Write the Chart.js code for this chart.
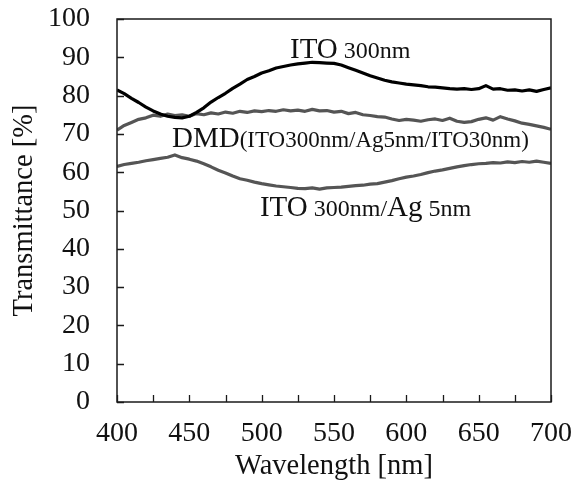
<!DOCTYPE html>
<html>
<head>
<meta charset="utf-8">
<script src="https://cdn.jsdelivr.net/npm/chart.js@4.4.1/dist/chart.umd.min.js"></script>
<style>
html,body{margin:0;padding:0;background:#fff;}
#wrap{width:583px;height:490px;position:relative;}
</style>
</head>
<body>
<div id="wrap"><canvas id="c"></canvas></div>
<script>
// Wavelength (nm), 5 nm steps
const wavelengths = [400,405,410,415,420,425,430,435,440,445,450,455,460,465,470,475,480,485,490,495,500,505,510,515,520,525,530,535,540,545,550,555,560,565,570,575,580,585,590,595,600,605,610,615,620,625,630,635,640,645,650,655,660,665,670,675,680,685,690,695,700];

const ito300 = [81.5,80.5,79.3,78.2,77.0,76.0,75.2,74.6,74.3,74.2,74.6,75.6,76.8,78.3,79.5,80.6,81.9,83.0,84.2,85.0,85.9,86.5,87.2,87.6,88.0,88.3,88.5,88.7,88.6,88.5,88.4,88.0,87.3,86.6,85.9,85.2,84.6,84.0,83.6,83.3,83.0,82.8,82.6,82.3,82.2,82.0,81.8,81.7,81.8,81.6,81.8,82.6,81.7,81.8,81.4,81.5,81.2,81.5,81.1,81.6,82.0];

const dmd = [71.0,72.2,73.0,73.8,74.2,74.9,74.6,75.2,74.8,75.0,74.6,75.3,75.0,75.5,75.2,75.7,75.4,75.9,75.6,76.0,75.8,76.1,75.9,76.3,76.0,76.2,75.9,76.4,76.0,76.1,75.7,75.9,75.3,75.6,75.0,74.8,74.5,74.4,73.9,73.5,73.8,73.6,73.3,73.7,73.9,73.5,74.1,73.3,73.0,73.2,73.8,74.2,73.6,74.5,73.9,73.4,72.8,72.5,72.1,71.7,71.2];

const itoAg = [61.5,62.0,62.3,62.6,63.0,63.3,63.6,63.9,64.5,63.8,63.4,62.9,62.2,61.4,60.5,59.8,59.0,58.3,57.9,57.4,57.0,56.7,56.4,56.2,56.0,55.8,55.7,55.9,55.6,55.9,56.0,56.1,56.3,56.5,56.6,56.9,57.0,57.4,57.8,58.3,58.7,59.0,59.4,59.9,60.3,60.6,61.0,61.4,61.7,62.0,62.2,62.3,62.5,62.4,62.7,62.5,62.8,62.6,62.9,62.6,62.3];

const xTickLabels = [400,450,500,550,600,650,700];
const yTickLabels = [0,10,20,30,40,50,60,70,80,90,100];

const SERIF = '"Liberation Serif", "Times New Roman", serif';

// text annotations (data coordinates) with mixed font sizes
const annotations = [
  {x: 519.6, y: 89.8, parts: [["ITO", 29], [" 300nm", 24]]},
  {x: 438, y: 66.6, parts: [["DMD", 29], ["(ITO300nm/Ag5nm/ITO30nm)", 23]]},
  {x: 498.8, y: 48.6, parts: [["ITO", 29], [" 300nm/", 24], ["Ag", 29], [" 5nm", 24]]}
];

function toXY(ys){ return wavelengths.map((w,i)=>({x:w, y:ys[i]})); }

const framePlugin = {
  id: 'frame',
  afterDraw(chart){
    const {ctx, chartArea:a, scales} = chart;
    ctx.save();
    ctx.strokeStyle = '#1a1a1a';
    ctx.lineWidth = 1.5;
    ctx.strokeRect(a.left, a.top, a.right - a.left, a.bottom - a.top);
    ctx.lineWidth = 1.3;
    ctx.beginPath();
    scales.x.ticks.forEach(t=>{
      const px = Math.round(scales.x.getPixelForValue(t.value)) + 0.5;
      ctx.moveTo(px, a.bottom); ctx.lineTo(px, a.bottom - 7);
    });
    scales.y.ticks.forEach(t=>{
      const py = Math.round(scales.y.getPixelForValue(t.value)) + 0.5;
      ctx.moveTo(a.left, py); ctx.lineTo(a.left + 7, py);
    });
    ctx.stroke();
    ctx.restore();
  },
  afterDatasetsDraw(chart){
    const {ctx, scales} = chart;
    ctx.save();
    ctx.fillStyle = '#111';
    ctx.textBaseline = 'alphabetic';
    ctx.textAlign = 'left';
    annotations.forEach(an=>{
      let px = scales.x.getPixelForValue(an.x);
      const py = scales.y.getPixelForValue(an.y);
      an.parts.forEach(([txt, size])=>{
        ctx.font = size + 'px ' + SERIF;
        ctx.fillText(txt, px, py);
        px += ctx.measureText(txt).width;
      });
    });
    ctx.restore();
  }
};

new Chart(document.getElementById('c'), {
  type: 'line',
  data: {
    datasets: [
      {label: 'ITO 300nm', data: toXY(ito300), borderColor: '#000', borderWidth: 3.2},
      {label: 'DMD', data: toXY(dmd), borderColor: '#555', borderWidth: 3.2},
      {label: 'ITO 300nm/Ag 5nm', data: toXY(itoAg), borderColor: '#555', borderWidth: 3.2}
    ]
  },
  options: {
    responsive: true,
    maintainAspectRatio: false,
    animation: false,
    layout: {padding: {top: 19, right: 32, left: 0, bottom: 0}},
    elements: {point: {radius: 0}, line: {tension: 0, borderJoinStyle: 'round'}},
    plugins: {legend: {display: false}, tooltip: {enabled: false}},
    scales: {
      x: {
        type: 'linear', min: 400, max: 700,
        afterFit(s){ s.height = 88; s.paddingLeft = 0; s.paddingRight = 0; },
        grid: {display: false, drawTicks: false},
        border: {display: false},
        ticks: {
          stepSize: 25, autoSkip: false, maxRotation: 0, padding: 15,
          color: '#111', font: {family: SERIF, size: 28},
          callback: v => xTickLabels.includes(v) ? String(v) : ''
        },
        title: {display: true, text: 'Wavelength [nm]', color: '#111',
          font: {family: SERIF, size: 28.5}, padding: {top: 0, bottom: 6}}
      },
      y: {
        min: 0, max: 100,
        afterFit(s){ s.width = 117; s.paddingTop = 0; s.paddingBottom = 0; },
        grid: {display: false, drawTicks: false},
        border: {display: false},
        ticks: {
          stepSize: 10, autoSkip: false, padding: 27,
          color: '#111', font: {family: SERIF, size: 28},
          callback: v => yTickLabels.includes(v) ? String(v) : ''
        },
        title: {display: true, text: 'Transmittance [%]', color: '#111',
          font: {family: SERIF, size: 28.5}, padding: {top: 7, bottom: 0}}
      }
    }
  },
  plugins: [framePlugin]
});
</script>
</body>
</html>
